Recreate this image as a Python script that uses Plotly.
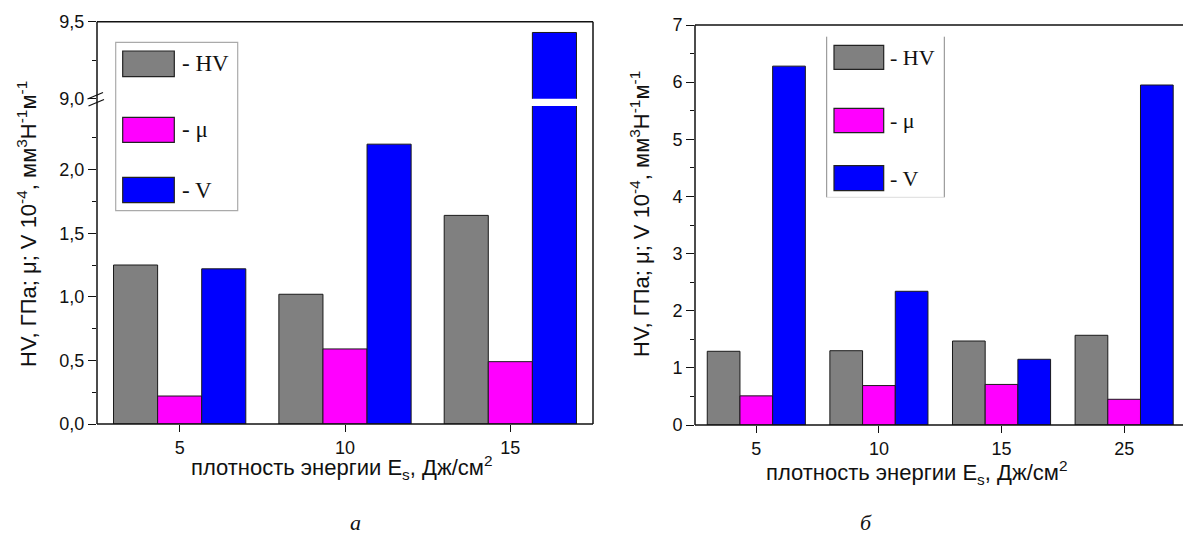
import plotly.graph_objects as go

# ---------------- data ----------------
cats_a = ["5", "10", "15"]
hv_a = [1.25, 1.02, 1.64]
mu_a = [0.22, 0.59, 0.49]
v_a = [1.22, 2.20, 9.43]

cats_b = ["5", "10", "15", "25"]
hv_b = [1.29, 1.30, 1.47, 1.57]
mu_b = [0.51, 0.69, 0.71, 0.45]
v_b = [6.28, 2.34, 1.15, 5.95]

series_names = ["HV", "μ", "V"]
series_colors = ["#808080", "#FF00FF", "#0000FF"]

low_ticks = [0, 0.5, 1.0, 1.5, 2.0]
low_ticktext = ["0,0", "0,5", "1,0", "1,5", "2,0"]
low_minor = [0.25, 0.75, 1.25, 1.75, 2.25]
up_ticks = [9.0, 9.5]
up_ticktext = ["9,0", "9,5"]
up_minor = [9.25]
b_ticks = [0, 1, 2, 3, 4, 5, 6, 7]
b_minor = [0.5, 1.5, 2.5, 3.5, 4.5, 5.5, 6.5]

W, H = 1183, 554
SANS = "Liberation Sans, Arial, sans-serif"
SERIF = "Liberation Serif, Times New Roman, serif"


def px(x):
    return x / W


def py(y):
    return 1 - y / H


fig = go.Figure()

line = dict(color="#1a1a1a", width=1)

# left panel, lower part and upper part
for xa, ya in [("x", "y"), ("x2", "y2")]:
    for name, col, vals in zip(series_names, series_colors, [hv_a, mu_a, v_a]):
        fig.add_trace(go.Bar(x=cats_a, y=vals, name=name, marker=dict(color=col, line=line),
                             xaxis=xa, yaxis=ya, showlegend=False))
# right panel
for name, col, vals in zip(series_names, series_colors, [hv_b, mu_b, v_b]):
    fig.add_trace(go.Bar(x=cats_b, y=vals, name=name, marker=dict(color=col, line=line),
                         xaxis="x3", yaxis="y3", showlegend=False))

tickfont = dict(family=SANS, size=18, color="#111")
common_y = dict(ticks="outside", ticklen=8, tickwidth=1, tickcolor="#111", showgrid=False,
                zeroline=False, showline=False, tickfont=tickfont, automargin=False)
common_x = dict(type="category", ticks="outside", ticklen=7, tickcolor="#111", showgrid=False,
                zeroline=False, showline=False, tickfont=tickfont, automargin=False)

fig.update_layout(
    width=W, height=H,
    margin=dict(l=0, r=0, t=0, b=0, pad=0),
    paper_bgcolor="white", plot_bgcolor="white",
    barmode="group", bargap=0.2, bargroupgap=0,
    xaxis=dict(domain=[px(97), px(593)], anchor="y", range=[-0.5, 2.5], **common_x),
    yaxis=dict(domain=[py(424), py(106)], anchor="x", range=[0, 2.5],
               tickvals=low_ticks, ticktext=low_ticktext,
               minor=dict(tickvals=low_minor, ticks="outside", ticklen=4, tickcolor="#111"),
               **common_y),
    xaxis2=dict(domain=[px(97), px(593)], anchor="y2", matches="x", type="category",
                range=[-0.5, 2.5], visible=False, automargin=False),
    yaxis2=dict(domain=[py(98.7), py(21.7)], anchor="x2", range=[9.0, 9.5],
                tickvals=up_ticks, ticktext=up_ticktext,
                minor=dict(tickvals=up_minor, ticks="outside", ticklen=4, tickcolor="#111"),
                **common_y),
    xaxis3=dict(domain=[px(695), 1.0], anchor="y3", range=[-0.5, 3.48], **common_x),
    yaxis3=dict(domain=[py(425), py(25)], anchor="x3", range=[0, 7], tickvals=b_ticks,
                minor=dict(tickvals=b_minor, ticks="outside", ticklen=4, tickcolor="#111"),
                **common_y),
)

shapes = []


def seg(x0, y0, x1, y1, color="#111", width=1.5):
    shapes.append(dict(type="line", xref="paper", yref="paper", x0=px(x0), y0=py(y0),
                       x1=px(x1), y1=py(y1), line=dict(color=color, width=width), layer="above"))


# left frame
seg(97, 21.7, 593, 21.7)
seg(593, 21.7, 593, 424)
seg(97, 424, 593, 424)
seg(97, 21.7, 97, 424)
# break marks
seg(87.5, 99, 103, 92.5, width=1.3)
seg(88.5, 106, 104, 99.5, width=1.3)
# right frame
seg(695, 25, 1183, 25)
seg(695, 25, 695, 425)
seg(695, 425, 1183, 425)


def rect(x0, y0, x1, y1, fill, lc="#222", lw=1.2):
    shapes.append(dict(type="rect", xref="paper", yref="paper", x0=px(x0), y0=py(y0),
                       x1=px(x1), y1=py(y1), fillcolor=fill, line=dict(color=lc, width=lw),
                       layer="above"))


# left legend
rect(115.7, 42.3, 237.7, 210.7, "white", lc="#aaaaaa", lw=1.2)
leg_a_y = [(51, 76.7), (117.3, 142.3), (177.3, 202.7)]
for (y0, y1), col in zip(leg_a_y, series_colors):
    rect(122.7, y0, 174.3, y1, col)
# right legend
seg(826.7, 36.7, 826.7, 197.3, color="#888", width=1)
seg(944.3, 36.7, 944.3, 197.3, color="#888", width=1)
seg(826.7, 197.3, 944.3, 197.3, color="#dddddd", width=1)
leg_b_y = [(45.3, 69.3), (108.3, 132.7), (165.7, 190.7)]
for (y0, y1), col in zip(leg_b_y, series_colors):
    rect(834, y0, 883.7, y1, col)

fig.update_layout(shapes=shapes)

ann = []


def text(x, y, s, size, family=SANS, angle=0, xanchor="center", color="#111"):
    ann.append(dict(xref="paper", yref="paper", x=px(x), y=py(y), text=s, showarrow=False,
                    font=dict(family=family, size=size, color=color), textangle=angle,
                    xanchor=xanchor, yanchor="middle"))


for (y0, y1), name in zip(leg_a_y, series_names):
    text(180, (y0 + y1) / 2, "- " + name, 23, family=SERIF, xanchor="left")
for (y0, y1), name in zip(leg_b_y, series_names):
    text(888, (y0 + y1) / 2, "- " + name, 22, family=SERIF, xanchor="left")

ytitle = "HV, ГПа; μ; V 10<sup>-4</sup>, мм<sup>3</sup>Н<sup>-1</sup>м<sup>-1</sup>"
xtitle = "плотность энергии E<sub>s</sub>, Дж/см<sup>2</sup>"
text(27, 224, ytitle, 22, angle=-90)
text(640, 214, ytitle, 22, angle=-90)
text(341, 467, xtitle, 22)
text(916, 472, xtitle, 22)
text(355, 522, "<i>а</i>", 22, family=SERIF)
text(866, 522, "<i>б</i>", 22, family=SERIF)

fig.update_layout(annotations=ann)

fig.write_html(
    "out.html",
    config={"displayModeBar": False},
    post_script="document.body.style.margin='0px';document.body.style.overflow='hidden';",
)
